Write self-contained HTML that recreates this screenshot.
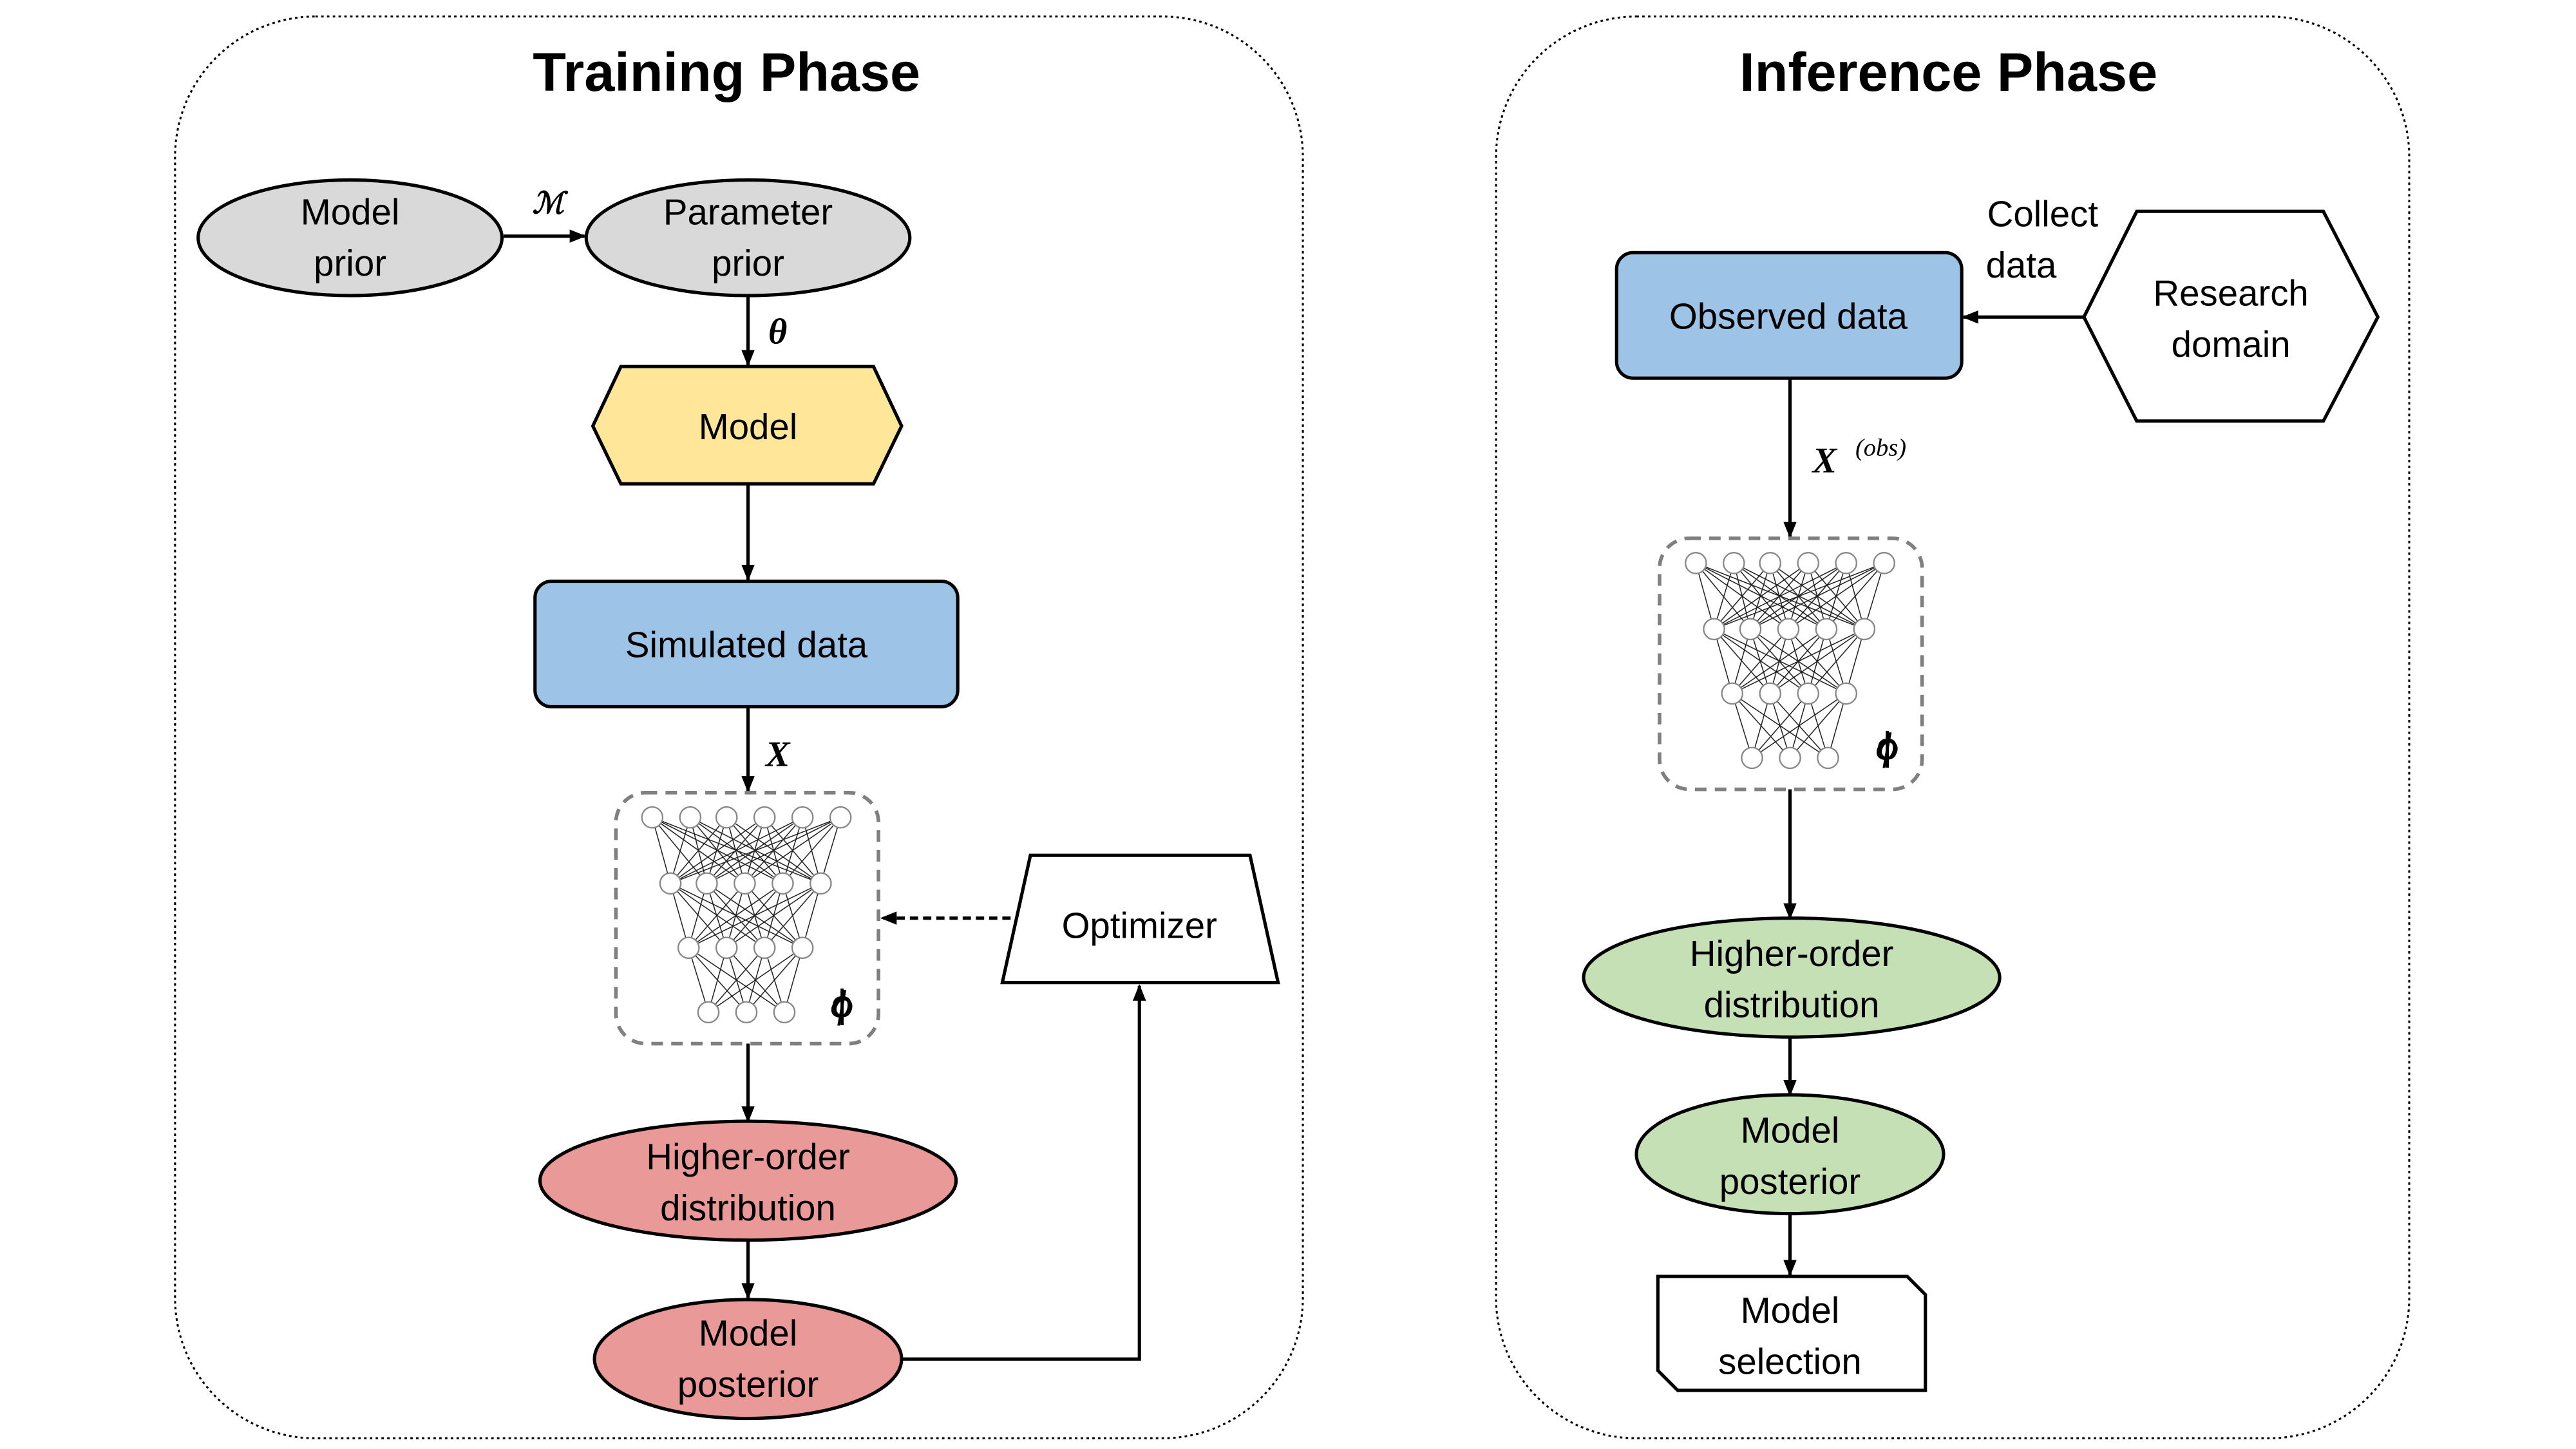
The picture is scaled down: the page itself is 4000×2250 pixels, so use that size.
<!DOCTYPE html>
<html><head><meta charset="utf-8"><style>html,body{margin:0;padding:0;background:#fff}svg{display:block}</style></head>
<body>
<svg id="s" xmlns="http://www.w3.org/2000/svg" width="4000" height="2250" viewBox="0 0 1560 877.5" font-family="'Liberation Sans', 'DejaVu Sans', sans-serif">
<defs>
<marker id="a" markerWidth="10" markerHeight="10" refX="9" refY="5" orient="auto" markerUnits="userSpaceOnUse"><path d="M0,1 L10,5 L0,9 z" fill="#000"/></marker>
</defs>
<rect x="0" y="0" width="1560" height="877.5" fill="#fff"/>
<!-- panels -->
<rect x="106" y="10" width="683" height="861" rx="85" fill="none" stroke="#000" stroke-width="1.2" stroke-dasharray="1.5,2"/>
<rect x="906" y="10" width="553" height="861" rx="85" fill="none" stroke="#000" stroke-width="1.2" stroke-dasharray="1.5,2"/>
<text x="440" y="55" font-size="33" font-weight="bold" text-anchor="middle">Training Phase</text>
<text x="1180" y="55" font-size="33" font-weight="bold" text-anchor="middle">Inference Phase</text>

<g stroke="#000" stroke-width="2" font-size="22">
<ellipse cx="212" cy="144" rx="92" ry="35" fill="#d9d9d9"/>
<ellipse cx="453" cy="144" rx="98" ry="35" fill="#d9d9d9"/>
<polygon points="359,258 376,222 529,222 546,258 529,293 376,293" fill="#ffe699"/>
<rect x="324" y="352" width="256" height="76" rx="10" fill="#9dc3e6"/>
<ellipse cx="453" cy="715" rx="126" ry="36" fill="#ea9999"/>
<ellipse cx="453" cy="823" rx="93" ry="36" fill="#ea9999"/>
<polygon points="607,595 774,595 757,518 624,518" fill="#fff"/>
<rect x="979" y="153" width="209" height="76" rx="10" fill="#9dc3e6"/>
<polygon points="1262,192 1294,128 1407,128 1440,192 1407,255 1294,255" fill="#fff"/>
<ellipse cx="1085" cy="592" rx="126" ry="36" fill="#c5e0b4"/>
<ellipse cx="1084" cy="699" rx="93" ry="36" fill="#c5e0b4"/>
<polygon points="1004,773 1155,773 1166,784 1166,842 1016,842 1004,830" fill="#fff"/>
</g>

<g stroke="#000" stroke-width="2" fill="none">
<line x1="305" y1="143" x2="354" y2="143" marker-end="url(#a)"/>
<line x1="453" y1="179" x2="453" y2="221" marker-end="url(#a)"/>
<line x1="453" y1="293" x2="453" y2="351" marker-end="url(#a)"/>
<line x1="453" y1="428" x2="453" y2="479" marker-end="url(#a)"/>
<line x1="453" y1="632" x2="453" y2="679" marker-end="url(#a)"/>
<line x1="453" y1="751" x2="453" y2="786" marker-end="url(#a)"/>
<polyline points="546,823 690,823 690,597" marker-end="url(#a)"/>
<line x1="612" y1="556" x2="534" y2="556" stroke-dasharray="5,3" marker-end="url(#a)"/>
<line x1="1262" y1="192" x2="1189" y2="192" marker-end="url(#a)"/>
<line x1="1084" y1="229" x2="1084" y2="325" marker-end="url(#a)"/>
<line x1="1084" y1="477" x2="1084" y2="556" marker-end="url(#a)"/>
<line x1="1084" y1="628" x2="1084" y2="663" marker-end="url(#a)"/>
<line x1="1084" y1="735" x2="1084" y2="772" marker-end="url(#a)"/>
</g>

<g font-size="22" text-anchor="middle" fill="#000">
<text x="212" y="136">Model</text><text x="212" y="167">prior</text>
<text x="453" y="136">Parameter</text><text x="453" y="167">prior</text>
<text x="453" y="266">Model</text>
<text x="452" y="398">Simulated data</text>
<text x="453" y="708">Higher-order</text><text x="453" y="739">distribution</text>
<text x="453" y="815">Model</text><text x="453" y="846">posterior</text>
<text x="690" y="568">Optimizer</text>
<text x="1083" y="199">Observed data</text>
<text x="1351" y="185">Research</text><text x="1351" y="216">domain</text>
<text x="1237" y="137">Collect</text><text x="1224" y="168">data</text>
<text x="1085" y="585">Higher-order</text><text x="1085" y="616">distribution</text>
<text x="1084" y="692">Model</text><text x="1084" y="723">posterior</text>
<text x="1084" y="801">Model</text><text x="1084" y="832">selection</text>
</g>
<g font-family="'Liberation Serif', 'DejaVu Serif', serif" font-weight="bold" font-style="italic" fill="#000">
<text x="332" y="129" font-size="18" text-anchor="middle">ℳ</text>
<text x="471" y="208" font-size="22" text-anchor="middle">θ</text>
<text x="471" y="464" font-size="22" text-anchor="middle">X</text>
<text x="510" y="616" font-size="24" text-anchor="middle">ϕ</text>
<text x="1143" y="460" font-size="24" text-anchor="middle">ϕ</text>
<text x="1105" y="286" font-size="22" text-anchor="middle">X</text>
<text x="1139" y="276" font-size="15" font-weight="normal" text-anchor="middle">(obs)</text>
</g>
<g id="nn1"></g><g id="nn2"></g>
<script>
(function(){
 var ns="http://www.w3.org/2000/svg";
 function net(g,dx,dy,bx,by){
  var box=document.createElementNS(ns,"rect");
  box.setAttribute("x",bx);box.setAttribute("y",by);box.setAttribute("width",159);box.setAttribute("height",152);
  box.setAttribute("rx",18);box.setAttribute("fill","#fff");box.setAttribute("stroke","#808080");
  box.setAttribute("stroke-width","2.2");box.setAttribute("stroke-dasharray","7,5");g.appendChild(box);
  var L=[[495,[395,418,440,463,486,509]],[535,[406,428,451,474,497]],[574,[417,440,463,486]],[613,[429,452,475]]];
  for(var i=0;i<3;i++){var a=L[i],b=L[i+1];
   a[1].forEach(function(x1){b[1].forEach(function(x2){
    var l=document.createElementNS(ns,"line");
    l.setAttribute("x1",x1+dx);l.setAttribute("y1",a[0]+dy);l.setAttribute("x2",x2+dx);l.setAttribute("y2",b[0]+dy);
    l.setAttribute("stroke","#222");l.setAttribute("stroke-width","0.6");g.appendChild(l);});});}
  L.forEach(function(r){r[1].forEach(function(x){
   var c=document.createElementNS(ns,"circle");c.setAttribute("cx",x+dx);c.setAttribute("cy",r[0]+dy);c.setAttribute("r",6.3);
   c.setAttribute("fill","#fff");c.setAttribute("stroke","#888");c.setAttribute("stroke-width","0.9");g.appendChild(c);});});
 }
 net(document.getElementById("nn1"),0,0,373,480);
 net(document.getElementById("nn2"),632,-154,1005,326);
 var s=document.getElementById("s");
 ["ϕ"].forEach(function(){});
 // move phi labels on top
 var ts=s.querySelectorAll("text");ts.forEach(function(t){if(t.textContent==="ϕ")s.appendChild(t.parentNode===s?t:t.cloneNode(true));});
 ts.forEach(function(t){if(t.textContent==="ϕ"){var p=t.parentNode;var c=t.cloneNode(true);
   c.setAttribute("font-family","'Liberation Serif', 'DejaVu Serif', serif");c.setAttribute("font-weight","bold");c.setAttribute("font-style","italic");s.appendChild(c);}});
})();
</script>
</svg>
</body></html>
